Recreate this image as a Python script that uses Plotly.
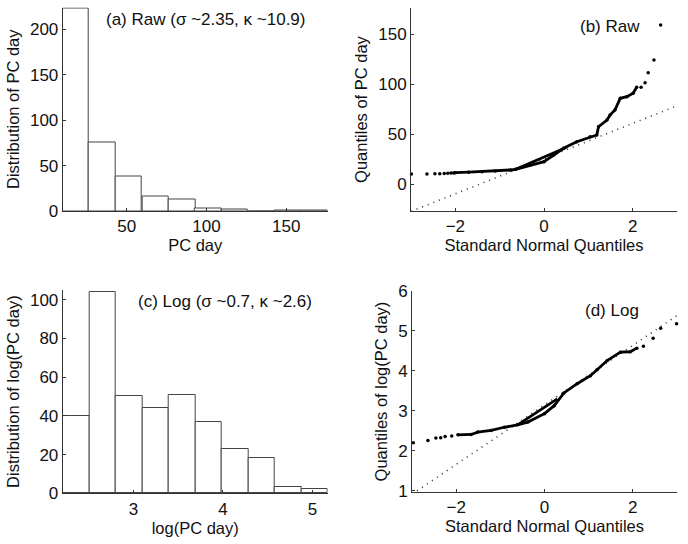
import plotly.graph_objects as go

# ---------------- data ----------------
# (a) histogram of raw PC day
raw_bin_centers = [18.1, 34.7, 51.3, 68.0, 84.6, 101.2, 117.8, 134.5, 151.1, 167.7]
raw_counts = [223, 75, 38, 16, 13, 3, 2, 0, 1, 1]
raw_bin_width = 16.62

# (c) histogram of log(PC day)
log_bin_centers = [2.358, 2.654, 2.950, 3.246, 3.542, 3.838, 4.134, 4.430, 4.726, 5.022]
log_counts = [40, 104, 50, 44, 51, 37, 23, 18, 3, 2]
log_bin_width = 0.296

# (b) QQ plot raw: standard normal quantiles vs sample quantiles
raw_qx = [-2.99, -2.64, -2.46, -2.35, -2.25, -2.17, -2.10, -2.04, -2.0, -1.7, -1.4, -1.1,
          -0.76, -0.64, -0.31, 0.0, 0.22, 0.44, 0.74, 1.04, 1.19, 1.23, 1.42, 1.49,
          1.60, 1.72, 1.87, 2.01, 2.09, 2.19, 2.28, 2.35, 2.48, 2.63]
raw_qy = [10.0, 10.0, 10.3, 10.3, 10.6, 10.8, 11.0, 11.1, 11.3, 11.8, 12.3, 13.0,
          14.0, 14.7, 19.0, 22.3, 29.0, 35.7, 42.3, 47.3, 49.0, 57.3, 64.0, 69.0,
          74.0, 85.7, 87.3, 90.7, 96.7, 96.7, 101.3, 111.3, 124.0, 159.0]
raw_chord_x = [-0.64, 0.50]
raw_chord_y = [14.7, 36.5]
raw_ref_intercept = 25.4
raw_ref_slope = 17.6

# (d) QQ plot log
log_qx = [-2.97, -2.64, -2.46, -2.35, -2.25, -2.10, -1.96, -1.66, -1.51, -1.21, -0.91,
          -0.61, -0.38, 0.0, 0.22, 0.44, 0.74, 1.04, 1.19, 1.42, 1.72, 1.94, 2.09,
          2.24, 2.46, 2.63, 2.99]
log_qy = [2.20, 2.26, 2.32, 2.33, 2.36, 2.37, 2.40, 2.41, 2.47, 2.51, 2.59,
          2.65, 2.72, 2.93, 3.13, 3.45, 3.68, 3.88, 4.03, 4.26, 4.47, 4.48, 4.57,
          4.62, 4.82, 5.07, 5.18]
log_chord_x = [-0.61, 0.29]
log_chord_y = [2.65, 3.30]
log_ref_intercept = 3.15
log_ref_slope = 0.745

# ---------------- figure ----------------
FONT = "Liberation Sans, Arial, sans-serif"
AX = "#333333"
fig = go.Figure()

bar_line = dict(color="#444444", width=1)
fig.add_trace(go.Bar(x=raw_bin_centers, y=raw_counts, width=raw_bin_width,
                     marker=dict(color="white", line=bar_line), xaxis="x", yaxis="y"))
fig.add_trace(go.Bar(x=log_bin_centers, y=log_counts, width=log_bin_width,
                     marker=dict(color="white", line=bar_line), xaxis="x3", yaxis="y3"))


def qq(xs, ys, cx, cy, a, b, xa, ya):
    # reference line
    fig.add_trace(go.Scatter(x=[-3, 3], y=[a + b * (-3), a + b * 3], mode="lines",
                             line=dict(color="#333333", width=1.6, dash="1px,5px"),
                             xaxis=xa, yaxis=ya))
    # body of data drawn as thick line (dense points)
    body = [i for i, v in enumerate(xs) if -2.05 <= v <= 2.1]
    fig.add_trace(go.Scatter(x=[xs[i] for i in body], y=[ys[i] for i in body], mode="lines",
                             line=dict(color="black", width=2.8), xaxis=xa, yaxis=ya))
    fig.add_trace(go.Scatter(x=cx, y=cy, mode="lines", line=dict(color="black", width=2.6),
                             xaxis=xa, yaxis=ya))
    fig.add_trace(go.Scatter(x=xs, y=ys, mode="markers", cliponaxis=False,
                             marker=dict(color="black", size=3.5), xaxis=xa, yaxis=ya))


qq(raw_qx, raw_qy, raw_chord_x, raw_chord_y, raw_ref_intercept, raw_ref_slope, "x2", "y2")
qq(log_qx, log_qy, log_chord_x, log_chord_y, log_ref_intercept, log_ref_slope, "x4", "y4")

W, H = 688, 544
def dx(l, r):
    return [l / W, r / W]
def dy(t, b):
    return [1 - b / H, 1 - t / H]

common = dict(showline=True, linecolor=AX, linewidth=1, ticks="inside", ticklen=3,
              tickcolor=AX, showgrid=False, zeroline=False, mirror=False, automargin=False,
              tickfont=dict(size=17, color="#111111"), title_font=dict(size=16.5, color="#111111"))

fig.update_layout(
    width=W, height=H, autosize=False, showlegend=False,
    margin=dict(l=0, r=0, t=0, b=0),
    paper_bgcolor="white", plot_bgcolor="white",
    font=dict(family=FONT, color="#111111"),
    bargap=0,
    xaxis=dict(domain=dx(62.7, 327.7), range=[9.8, 176], tickvals=[50, 100, 150],
               title=dict(text="PC day", standoff=2), anchor="y", **common),
    yaxis=dict(domain=dy(7.5, 211), range=[0, 224], tickvals=[0, 50, 100, 150, 200],
               title=dict(text="Distribution of PC day", standoff=6), anchor="x", **common),
    xaxis2=dict(domain=dx(411, 677), range=[-3, 3], tickvals=[-2, 0, 2],
                title=dict(text="Standard Normal Quantiles", standoff=2), anchor="y2", **common),
    yaxis2=dict(domain=dy(8, 211), range=[-27, 176], tickvals=[0, 50, 100, 150],
                title=dict(text="Quantiles of PC day", standoff=6), anchor="x2", **common),
    xaxis3=dict(domain=dx(62.7, 327.7), range=[2.21, 5.17], tickvals=[3, 4, 5],
                title=dict(text="log(PC day)", standoff=2), anchor="y3", **common),
    yaxis3=dict(domain=dy(290, 493.3), range=[0, 105], tickvals=[0, 20, 40, 60, 80, 100],
                title=dict(text="Distribution of log(PC day)", standoff=6), anchor="x3", **common),
    xaxis4=dict(domain=dx(412, 677), range=[-3, 3], tickvals=[-2, 0, 2],
                title=dict(text="Standard Normal Quantiles", standoff=2), anchor="y4", **common),
    yaxis4=dict(domain=dy(291, 492), range=[0.97, 6], tickvals=[1, 2, 3, 4, 5, 6],
                title=dict(text="Quantiles of log(PC day)", standoff=6), anchor="x4", **common),
)

ann = dict(showarrow=False, font=dict(size=17, family=FONT, color="#111111"),
           xref="paper", yref="paper", xanchor="left", yanchor="middle")
fig.add_annotation(text="(a) Raw (σ ~2.35, κ ~10.9)", x=104 / W, y=1 - 20 / H, **ann)
fig.add_annotation(text="(b) Raw", x=578 / W, y=1 - 26 / H, **ann)
fig.add_annotation(text="(c) Log (σ ~0.7, κ ~2.6)", x=136 / W, y=1 - 301 / H, **ann)
fig.add_annotation(text="(d) Log", x=583 / W, y=1 - 310 / H, **ann)

fig.write_html("out.html", config={"displayModeBar": False},
               post_script="document.body.style.margin='0';document.body.style.overflow='hidden';")
